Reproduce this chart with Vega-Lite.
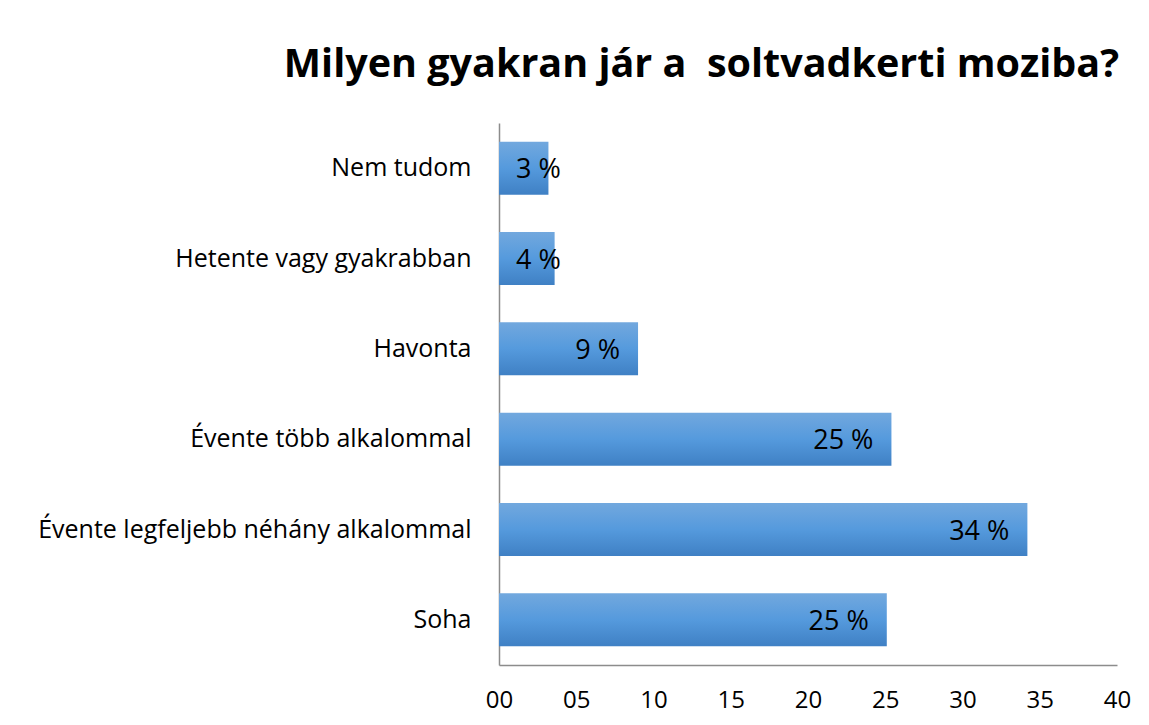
{
  "$schema": "https://vega.github.io/schema/vega-lite/v6.json",
  "autosize": "none",
  "width": 618,
  "height": 542,
  "padding": {"left": 499, "top": 123, "right": 32, "bottom": 60},
  "background": "white",
  "title": {
    "text": "Milyen gyakran jár a\u00a0 soltvadkerti moziba?",
    "anchor": "end",
    "frame": "group",
    "font": "Open Sans",
    "fontSize": 39.5,
    "fontWeight": "bold",
    "color": "#000000",
    "baseline": "alphabetic",
    "dx": 2,
    "offset": 7
  },
  "data": {
    "values": [
      {"category": "Nem tudom", "value": 3.2, "label": "3 %"},
      {"category": "Hetente vagy gyakrabban", "value": 3.6, "label": "4 %"},
      {"category": "Havonta", "value": 9.0, "label": "9 %"},
      {"category": "Évente több alkalommal", "value": 25.4, "label": "25 %"},
      {"category": "Évente legfeljebb néhány alkalommal", "value": 34.2, "label": "34 %"},
      {"category": "Soha", "value": 25.1, "label": "25 %"}
    ]
  },
  "encoding": {
    "y": {
      "field": "category",
      "type": "nominal",
      "sort": null,
      "scale": {"paddingInner": 0.413, "paddingOuter": 0.2065},
      "axis": {
        "title": null,
        "ticks": false,
        "labelPadding": 28,
        "labelFont": "Open Sans",
        "labelFontSize": 25,
        "labelColor": "#000000",
        "labelLimit": 600,
        "domainColor": "#8c8c8c",
        "domainWidth": 1.5
      }
    }
  },
  "layer": [
    {
      "mark": {
        "type": "bar",
        "color": {
          "gradient": "linear",
          "x1": 0, "y1": 0, "x2": 0, "y2": 1,
          "stops": [
            {"offset": 0, "color": "#72a8de"},
            {"offset": 0.5, "color": "#559add"},
            {"offset": 1, "color": "#3f80c4"}
          ]
        }
      },
      "encoding": {
        "x": {
          "field": "value",
          "type": "quantitative",
          "scale": {"domain": [0, 40], "nice": false},
          "axis": {
            "title": null,
            "values": [0, 5, 10, 15, 20, 25, 30, 35, 40],
            "format": "02d",
            "ticks": false,
            "grid": false,
            "labelPadding": 23,
            "labelFont": "Open Sans",
            "labelFontSize": 24,
            "labelColor": "#000000",
            "labelFlush": false,
            "domainColor": "#8c8c8c",
            "domainWidth": 1.5
          }
        }
      }
    },
    {
      "transform": [{"filter": "datum.value >= 5"}],
      "mark": {
        "type": "text",
        "align": "right",
        "baseline": "middle",
        "dx": -18,
        "dy": 2,
        "font": "Open Sans",
        "fontSize": 27,
        "color": "#000000"
      },
      "encoding": {
        "x": {"field": "value", "type": "quantitative"},
        "text": {"field": "label"}
      }
    },
    {
      "transform": [{"filter": "datum.value < 5"}],
      "mark": {
        "type": "text",
        "align": "left",
        "baseline": "middle",
        "dx": 17,
        "dy": 2,
        "font": "Open Sans",
        "fontSize": 27,
        "color": "#000000"
      },
      "encoding": {
        "x": {"datum": 0, "type": "quantitative"},
        "text": {"field": "label"}
      }
    }
  ],
  "config": {
    "view": {"stroke": null}
  }
}
